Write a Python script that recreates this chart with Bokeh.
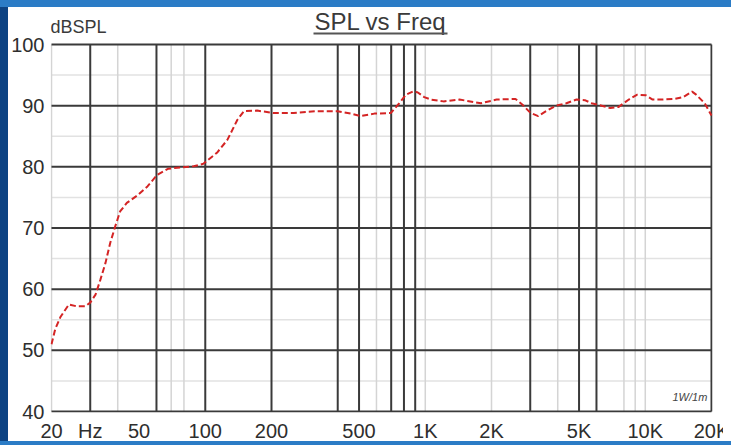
from bokeh.plotting import figure
from bokeh.models import Label, BoxAnnotation, FixedTicker, Range1d
from bokeh.embed import file_html
from bokeh.resources import INLINE

# ---- data ----
freq = [20, 20.8, 22, 24, 26, 28.5, 30, 31.7, 33.4, 35.2, 37, 39, 41, 44, 49, 54.6,
        60.5, 68, 77, 88.6, 98, 113, 126, 140, 150, 172, 204, 252, 322, 399, 459,
        510, 587, 697, 762, 817, 877, 921, 989, 1060, 1210, 1430, 1790, 2110, 2570,
        2760, 3010, 3260, 3540, 3930, 4380, 4870, 5310, 5700, 6340, 6930, 7570,
        8420, 9200, 10060, 10800, 12000, 13600, 14870, 16320, 17030, 18620, 19300, 20000]
spl = [51.0, 53.5, 55.5, 57.5, 57.2, 57.2, 57.8, 59.1, 61.6, 64.3, 67.6, 70.3, 72.7,
       74.1, 75.3, 76.8, 78.7, 79.7, 79.9, 80.1, 80.5, 82.3, 84.4, 87.7, 89.1, 89.2,
       88.8, 88.8, 89.1, 89.1, 88.7, 88.3, 88.7, 88.8, 90.4, 91.8, 92.3, 92.2, 91.4,
       91.0, 90.7, 91.0, 90.4, 91.0, 91.1, 90.2, 88.8, 88.3, 89.1, 90.0, 90.4, 91.0,
       90.9, 90.4, 90.0, 89.6, 89.8, 91.0, 91.8, 91.7, 91.0, 91.0, 91.1, 91.4, 92.3,
       91.8, 90.4, 89.4, 88.4]

x_ticks = [20, 30, 50, 100, 200, 500, 1000, 2000, 5000, 10000, 20000]
x_tick_labels = ["20", "Hz", "50", "100", "200", "500", "1K", "2K", "5K", "10K", "20K"]
y_ticks = [40, 50, 60, 70, 80, 90, 100]
y_minor = [45, 55, 65, 75, 85, 95]
dark_vlines = [30, 60, 100, 200, 400, 500, 700, 800, 900, 3000, 5000, 6000, 20000]
light_vlines = [20, 40, 70, 80, 600, 1000, 2000, 4000, 8000, 9000, 10000]

f_lo, f_hi = 20, 20000
db_lo, db_hi = 40, 100

# frame geometry: 6.117 px per dB; frame reaches up to the top of the figure
px_per_db = 367 / 60
xpad = 10 ** (1 / 220)
y_start = db_lo - 1 / px_per_db
y_end = db_hi + 36 / px_per_db

p = figure(width=723, height=437, x_axis_type="log",
           x_range=Range1d(f_lo / xpad, f_hi * xpad),
           y_range=Range1d(y_start, y_end),
           output_backend="svg", toolbar_location=None,
           min_border_left=42, min_border_right=19,
           min_border_top=0, min_border_bottom=33)
p.title.visible = False
p.border_fill_color = None
p.background_fill_color = "white"
p.outline_line_color = None
p.xgrid.visible = False
p.ygrid.visible = False

font = "Liberation Sans"
lab_col = "#2e2e2e"

for ax in (p.xaxis[0], p.yaxis[0]):
    ax.axis_line_color = None
    ax.major_tick_line_color = None
    ax.minor_tick_line_color = None
    ax.major_tick_out = 0
    ax.major_tick_in = 0
    ax.minor_tick_out = 0
    ax.minor_tick_in = 0
    ax.major_label_text_font = font
    ax.major_label_text_font_size = "20px"
    ax.major_label_text_color = lab_col

p.xaxis.ticker = FixedTicker(ticks=x_ticks)
p.xaxis.major_label_overrides = {t: l for t, l in zip(x_ticks, x_tick_labels)}
p.xaxis.major_label_standoff = 7
p.yaxis.ticker = FixedTicker(ticks=y_ticks)
p.yaxis.major_label_standoff = 6

# grid
p.segment(x0=f_lo, x1=f_hi, y0=y_minor, y1=y_minor, line_color="#e2e2e2", line_width=1.5)
p.segment(x0=light_vlines, x1=light_vlines, y0=db_lo, y1=db_hi, line_color="#d4d4d4", line_width=1.5)
p.segment(x0=dark_vlines, x1=dark_vlines, y0=db_lo, y1=db_hi, line_color="#3a3a3a", line_width=2)
p.segment(x0=f_lo, x1=f_hi, y0=y_ticks, y1=y_ticks, line_color="#3a3a3a", line_width=2)

# response curve
p.line(freq, spl, line_color="#d42424", line_width=2, line_dash="6 3")

# texts (screen units measured from the frame's bottom-left corner)
p.add_layout(Label(x=330, y=391, x_units="screen", y_units="screen", text="SPL vs Freq",
                   text_font=font, text_font_size="24px", text_color="#3a3a3a",
                   text_align="center", text_baseline="alphabetic"))
p.add_layout(BoxAnnotation(left=263, right=397, bottom=378, top=380,
                           left_units="screen", right_units="screen",
                           bottom_units="screen", top_units="screen",
                           fill_color="#555555", fill_alpha=1, line_color=None))
p.add_layout(Label(x=0, y=386, x_units="screen", y_units="screen", text="dBSPL",
                   text_font=font, text_font_size="18px", text_color="#3a3a3a",
                   text_align="left", text_baseline="alphabetic"))
p.add_layout(Label(x=622, y=16, x_units="screen", y_units="screen", text="1W/1m",
                   text_font=font, text_font_size="11px", text_font_style="italic",
                   text_color="#444444", text_align="left", text_baseline="alphabetic"))

html = file_html(p, INLINE)
style = """<style>
html{height:100%;overflow:hidden;
background:linear-gradient(to bottom,#2b7cc6 0px,#2b7cc6 7px,rgba(255,255,255,0) 7px,rgba(255,255,255,0) 441px,#2b7cc6 441px) no-repeat,
linear-gradient(to right,#0d4383 0px,#0d4383 8px,#ffffff 8px) no-repeat;}
body{margin:8px;overflow:hidden;background:transparent;}
</style>"""
html = html.replace("</head>", style + "</head>", 1)
open("out.html", "w").write(html)
